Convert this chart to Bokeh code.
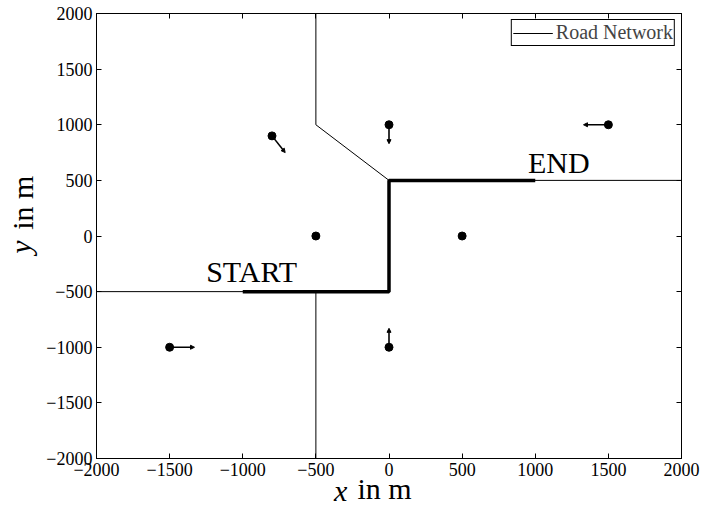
import math
from bokeh.plotting import figure
from bokeh.models import (ColumnDataSource, Arrow, NormalHead, LinearAxis,
                          FixedTicker, CustomJSTickFormatter, Range1d)
from bokeh.core.properties import value
from bokeh.embed import file_html
from bokeh.resources import INLINE

# ---------------- data ----------------
tick_values = [-2000, -1500, -1000, -500, 0, 500, 1000, 1500, 2000]

road_xs = [[-2000, 0, 0, 2000], [-500, -500], [-500, -500, 0]]
road_ys = [[-500, -500, 500, 500], [-500, -2000], [2000, 1000, 500]]

route_x = [-1000, 0, 0, 1000]
route_y = [-500, -500, 500, 500]

node_x = [-800, 0, 1500, -500, 500, -1500, 0]
node_y = [900, 1000, 1000, 0, 0, -1000, -1000]
vel_u = [90, 0, -170, 0, 0, 170, 0]
vel_v = [-150, -170, 0, 0, 0, 0, 170]

label_text = ["START", "END"]
label_x = [-1250, 950]
label_y = [-317, 663]

x_label_var, x_label_unit = "x", "in m"
y_label_var, y_label_unit = "y", "in m"

SERIF = "Liberation Serif"
LBL_SIZE = "30px"
LBL_H = 38  # approx. text box height used to line up the two parts of a label

p = figure(width=701, height=514, frame_width=585, frame_height=445,
           output_backend="svg", toolbar_location=None,
           x_range=Range1d(-2000, 2000), y_range=Range1d(-2000, 2000),
           min_border_left=96, min_border_right=20, min_border_top=13,
           min_border_bottom=56)
p.xgrid.visible = False
p.ygrid.visible = False
p.outline_line_color = "black"
p.outline_line_alpha = 1.0
p.background_fill_color = "white"
p.border_fill_color = "white"

fmt = CustomJSTickFormatter(code="return tick < 0 ? '\\u2212' + Math.abs(tick) : String(tick);")

def style_axis(ax, show_labels=True):
    ax.ticker = FixedTicker(ticks=tick_values)
    ax.formatter = fmt
    ax.major_tick_in = 5
    ax.major_tick_out = 0
    ax.minor_tick_line_color = None
    ax.axis_line_color = "black"
    ax.major_tick_line_color = "black"
    ax.major_label_text_font = SERIF
    if show_labels:
        ax.major_label_text_color = "black"
        ax.major_label_text_font_size = "18px"
        ax.major_label_standoff = 4
    else:
        ax.major_label_text_color = None
        ax.major_label_text_font_size = "1px"
        ax.major_label_standoff = 0

style_axis(p.xaxis[0])
style_axis(p.yaxis[0])
top_ax = LinearAxis()
right_ax = LinearAxis()
style_axis(top_ax, False)
style_axis(right_ax, False)
p.add_layout(top_ax, "above")
p.add_layout(right_ax, "right")

# ---- axis titles built from label-only axes (italic variable + upright unit) ----
def title_axis(tick_pos, text, italic, standoff, vertical=False):
    ax = LinearAxis(ticker=FixedTicker(ticks=[tick_pos]),
                    major_label_overrides={tick_pos: text})
    ax.axis_line_color = None
    ax.major_tick_line_color = None
    ax.minor_tick_line_color = None
    ax.major_tick_in = 0
    ax.major_tick_out = 0
    ax.major_label_text_font = SERIF
    ax.major_label_text_font_size = LBL_SIZE
    ax.major_label_text_color = "black"
    ax.major_label_text_font_style = "italic" if italic else "normal"
    ax.major_label_standoff = standoff
    if vertical:
        ax.major_label_orientation = "vertical"
    return ax

p.add_layout(title_axis(-330, x_label_var, True, -5), "below")
p.add_layout(title_axis(-30, x_label_unit, False, -LBL_H), "below")
p.add_layout(title_axis(-100, y_label_var, True, 7, vertical=True), "left")
p.add_layout(title_axis(300, y_label_unit, False, -LBL_H, vertical=True), "left")

# road network
p.multi_line(xs=road_xs, ys=road_ys, line_color="black", line_width=1,
             legend_label="Road Network")
# route
p.line(route_x, route_y, line_color="black", line_width=3.5)

# nodes
p.scatter(node_x, node_y, size=8, color="black")

# velocity arrows
ax_s, ay_s, ax_e, ay_e = [], [], [], []
for x, y, u, v in zip(node_x, node_y, vel_u, vel_v):
    if u != 0 or v != 0:
        ax_s.append(x); ay_s.append(y)
        ax_e.append(x + u); ay_e.append(y + v)
arrow_src = ColumnDataSource(dict(x0=ax_s, y0=ay_s, x1=ax_e, y1=ay_e))
p.add_layout(Arrow(source=arrow_src, x_start="x0", y_start="y0", x_end="x1", y_end="y1",
                   line_color="black", line_width=1.6,
                   end=NormalHead(size=4, fill_color="black", line_color="black", line_width=1)))

# START / END
p.text(x=label_x, y=label_y, text=label_text, text_font=value(SERIF),
       text_font_size="30px", text_color="black", text_baseline="alphabetic",
       text_align="left")

# legend
lg = p.legend[0]
lg.location = "top_right"
lg.border_line_color = "black"
lg.border_line_width = 1
lg.border_line_alpha = 1.0
lg.margin = 6
lg.padding = 1
lg.spacing = 0
lg.glyph_width = 40
lg.glyph_height = 10
lg.label_standoff = 3
lg.label_text_font = SERIF
lg.label_text_font_size = "20px"
lg.label_height = 10
lg.background_fill_color = "white"
lg.background_fill_alpha = 1.0

open("out.html", "w").write(file_html(p, INLINE))
